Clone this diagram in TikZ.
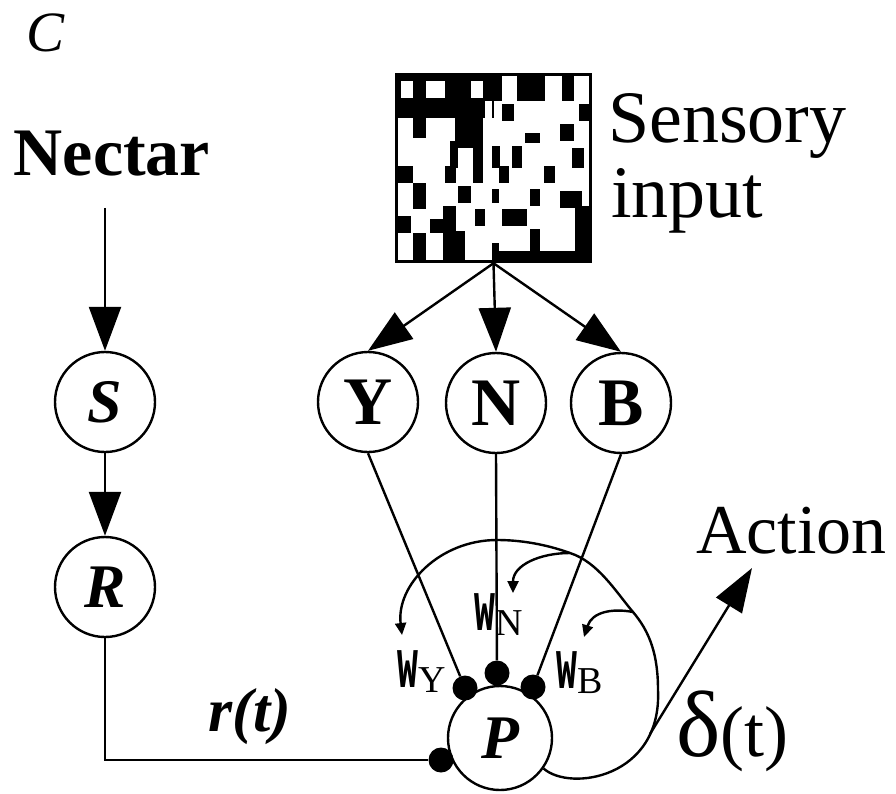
\documentclass[tikz,border=0pt]{standalone}
\usepackage{fontspec}
\usepackage{graphicx}
\setmainfont{Liberation Serif}
\newfontfamily\monofam{Liberation Mono}
\usetikzlibrary{arrows.meta}
\newcommand\setfs[1]{\fontsize{#1}{#1}\selectfont}
\newcommand\wlabel[1]{\scalebox{0.62}[1]{\monofam\bfseries\setfs{56}W}\raisebox{-5pt}{\setfs{38}#1}}

\begin{document}
\begin{tikzpicture}[x=1pt,y=-1pt,
  unit/.style={circle,draw,line width=2.4pt,minimum size=100pt,inner sep=0pt},
  junction/.style={circle,fill,minimum size=25pt,inner sep=0pt},
  wire/.style={line width=2.4pt},
  bighead/.style={-{Triangle[length=44pt,width=32pt]}},
  smallhead/.style={-{Triangle[length=12pt,width=11pt]}},
  lbl/.style={inner sep=0pt}]
\useasboundingbox (0,0) rectangle (896,793);

% panel letter and input labels
\node[lbl,font=\setfs{57}\itshape] (panel) at (46,33) {C};
\node[lbl,anchor=base,font=\setfs{68}\bfseries] (nectar) at (112,175) {Nectar};
\node[lbl,anchor=base west,font=\setfs{74}] (sens1) at (608,142) {Sensory};
\node[lbl,anchor=base west,font=\setfs{74}] (sens2) at (611,217) {input};
\node[lbl,anchor=base west,font=\setfs{70}] (action) at (696,553) {Action};

% sensory input pattern
\node[rectangle,fill=black,minimum width=197pt,minimum height=190pt,inner sep=0pt] (img) at (493.5,168) {};
\fill[white] (398,76) rectangle (589,260);
\foreach \xa/\ya/\xb/\yb in {
  398/76/494/117.7, 484.7/76/494/101,
  413/117.7/426.3/137.7, 454.7/104.3/483/147.7,
  449.7/141/458/167.7, 473/147.7/483/167.7,
  492/76/502/101, 517/76/545.3/101, 562/76/573.7/101,
  502/104.3/513.7/121, 578.7/104.3/589/121,
  525.3/132.7/540.3/142.7, 560.3/124.3/573.7/141,
  492/146/500.3/167.7, 512/146/522/167.7, 572/147.7/583.7/167.7,
  398/166/413/182.7, 444.7/166/456.3/182.7, 473/166/483/182.7,
  413/182.7/426.3/209.3, 458/186/471.3/202.7, 474.7/209.3/484.7/226,
  398/216/411.3/232.7, 443/206/456.3/232.7, 429.7/219.3/456.3/232.7,
  413/232.7/426.3/260, 443/231/464.7/260,
  498.7/166/508.7/182.7, 543.7/166/555.3/182.7,
  492/189.3/498.7/202.7, 530.3/189.3/540.3/206, 560.3/191/582/207.7,
  502/209.3/527/226, 575.3/206/589/260, 530.3/229.3/540.3/260,
  498.7/251/575.3/260, 492/242.7/498.7/260}
  \fill (\xa,\ya) rectangle (\xb,\yb);
\fill[white] (401.3,81) rectangle (413,97.7);
\fill[white] (426.3,81) rectangle (444.7,97.7);
\fill[white] (471.3,81) rectangle (483,97.7);
\fill[white] (484.7,101) rectangle (492,117.7);

% units
\node[unit,font=\setfs{62}\bfseries\itshape] (S) at (105,402) {S};
\node[unit,font=\setfs{62}\bfseries\itshape] (R) at (105,587) {R};
\node[unit,font=\setfs{68}\bfseries] (Y) at (368,402) {Y};
\node[unit,font=\setfs{68}\bfseries] (N) at (496,403) {N};
\node[unit,font=\setfs{68}\bfseries] (B) at (621,403) {B};
\node[unit,minimum size=104pt,font=\setfs{62}\bfseries\itshape] (P) at (500,738) {P};

% synapses
\node[junction] (dY) at (465,688) {};
\node[junction] (dN) at (497,673) {};
\node[junction] (dB) at (533,687) {};
\node[junction] (dR) at (441,760) {};

% weight labels
\node[lbl,anchor=base west] (wY) at (397,687) {\wlabel{Y}};
\node[lbl,anchor=base west] (wN) at (474,630) {\wlabel{N}};
\node[lbl,anchor=base west] (wB) at (556,688) {\wlabel{B}};

% signal labels
\node[lbl,font=\setfs{62}\bfseries\itshape] (rt) at (250,717) {r(t)};
\node[lbl,anchor=base west] (delta) at (676,756) {{\setfs{94}δ}{\setfs{72}(t)}};

% reward pathway
\draw[wire,bighead,shorten <=32pt] (nectar.south -| S.north) -- (S.north);
\draw[wire,bighead] (S) -- (R);
\draw[wire] (R) |- (dR);

% sensory pathway
\draw[wire,bighead] (img.south) -- (Y.north);
\draw[wire,bighead] (img.south) -- (N.north);
\draw[wire,bighead] (img.south) -- (B.north);
\draw[wire] (Y.south) -- (dY);
\draw[wire] (N.south) -- (dN);
\draw[wire] (B.south) -- (dB);

% prediction error feedback to the weights
\coordinate (fbC) at (658,690);
\coordinate (fbD) at (633,612);
\coordinate (fbJ) at (570,553);
\coordinate (fbF) at (497,540);
\coordinate (fbH) at (402,635);
\coordinate (fbK) at (650,734);
\coordinate (acttip) at (752,568);
\draw[wire,smallhead] (P.-35) .. controls (570,792) and (662,778) .. (fbC)
  .. controls (658,655) and (650,632) .. (fbD)
  .. controls (616,592) and (598,562) .. (fbJ)
  .. controls (545,544) and (520,540) .. (fbF)
  .. controls (440,540) and (396,585) .. (fbH);
\draw[wire,smallhead] (fbD) .. controls (612,608) and (592,612) .. (584,637);
\draw[wire,smallhead] (fbJ) .. controls (540,553) and (513,565) .. (513,593);
\draw[wire,-{Triangle[length=44pt,width=30pt]}] (fbK) -- (acttip);
\end{tikzpicture}
\end{document}
